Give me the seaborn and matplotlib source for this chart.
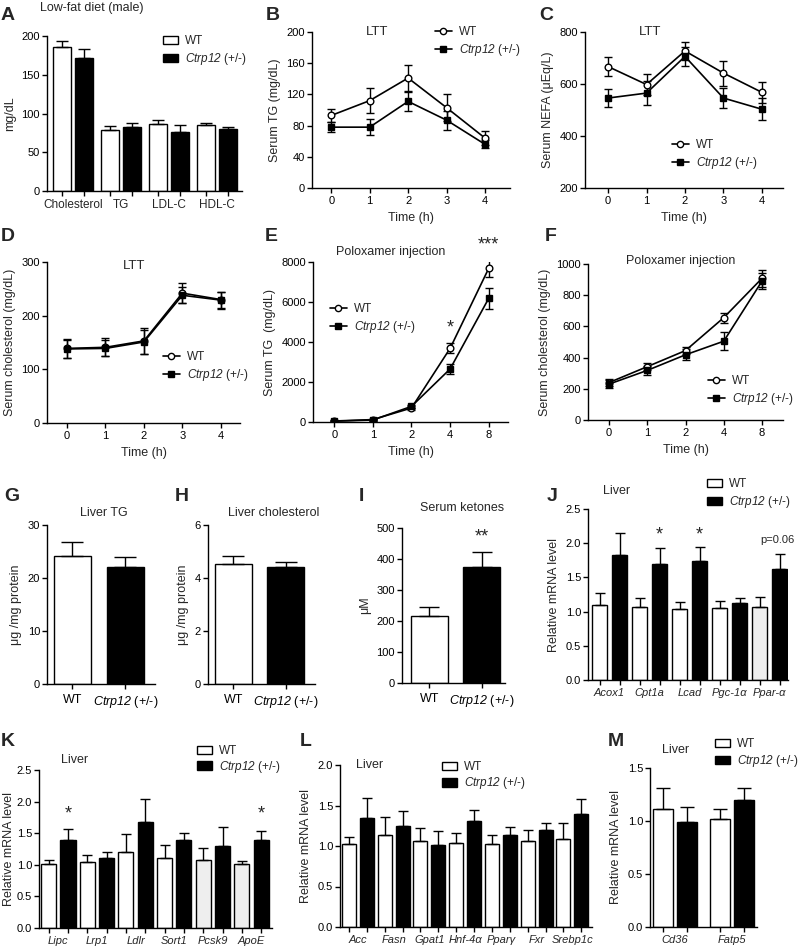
import numpy as np
import pandas as pd
import matplotlib
matplotlib.use('Agg')
import matplotlib.pyplot as plt
import seaborn as sns
from matplotlib.patches import Patch
from matplotlib.lines import Line2D

# ---------------- data ----------------
KO_LABEL = r'$\mathit{Ctrp12}$ (+/-)'

a_cats = ['Cholesterol', 'TG', 'LDL-C', 'HDL-C']
a_wt = [186, 79, 86, 85]
a_wt_err = [7, 4.5, 5, 3]
a_ko = [172, 83, 76, 80]
a_ko_err = [11, 4.5, 9, 2]

time_ltt = [0, 1, 2, 3, 4]
b_wt = [93, 112, 141, 103, 64]
b_wt_err = [8, 16, 17, 17, 9]
b_ko = [78, 78, 111, 87, 56]
b_ko_err = [6, 10, 12, 12, 5]

c_wt = [667, 598, 727, 642, 568]
c_wt_err = [37, 40, 35, 48, 40]
c_ko = [546, 565, 706, 546, 503]
c_ko_err = [35, 45, 38, 40, 42]

d_wt = [139, 141, 153, 242, 230]
d_wt_err = [17, 17, 24, 18, 15]
d_ko = [138, 139, 151, 238, 229]
d_ko_err = [16, 15, 22, 15, 16]

time_pol = ['0', '1', '2', '4', '8']
e_wt = [50, 120, 700, 3680, 7680]
e_wt_err = [30, 40, 80, 250, 450]
e_ko = [40, 100, 780, 2650, 6180]
e_ko_err = [30, 40, 80, 230, 520]

f_wt = [240, 342, 445, 656, 908]
f_wt_err = [22, 22, 25, 32, 55]
f_ko = [230, 318, 418, 505, 890]
f_ko_err = [25, 30, 35, 58, 50]

g_vals = [24.2, 22.0]
g_err = [2.6, 1.9]
h_vals = [4.53, 4.40]
h_err = [0.30, 0.20]
i_vals = [217, 374]
i_err = [28, 47]

j_genes = ['Acox1', 'Cpt1a', 'Lcad', 'Pgc-1α', 'Ppar-α']
j_wt = [1.09, 1.06, 1.04, 1.05, 1.07]
j_wt_err = [0.18, 0.14, 0.10, 0.11, 0.15]
j_ko = [1.83, 1.69, 1.74, 1.12, 1.62]
j_ko_err = [0.32, 0.24, 0.20, 0.08, 0.22]

k_genes = ['Lipc', 'Lrp1', 'Ldlr', 'Sort1', 'Pcsk9', 'ApoE']
k_wt = [1.02, 1.04, 1.21, 1.11, 1.08, 1.01]
k_wt_err = [0.06, 0.12, 0.28, 0.21, 0.18, 0.05]
k_ko = [1.40, 1.11, 1.67, 1.39, 1.30, 1.39]
k_ko_err = [0.16, 0.09, 0.37, 0.11, 0.30, 0.14]

l_genes = ['Acc', 'Fasn', 'Gpat1', 'Hnf-4α', 'Pparγ', 'Fxr', 'Srebp1c']
l_wt = [1.02, 1.13, 1.06, 1.04, 1.03, 1.06, 1.09]
l_wt_err = [0.09, 0.23, 0.16, 0.12, 0.11, 0.14, 0.20]
l_ko = [1.35, 1.25, 1.01, 1.31, 1.13, 1.20, 1.39]
l_ko_err = [0.24, 0.18, 0.17, 0.13, 0.10, 0.09, 0.19]

m_genes = ['Cd36', 'Fatp5']
m_wt = [1.11, 1.02]
m_wt_err = [0.20, 0.09]
m_ko = [0.99, 1.20]
m_ko_err = [0.14, 0.11]

# ---------------- style ----------------
sns.set_style('ticks')
plt.rcParams['font.family'] = ['Liberation Sans', 'DejaVu Sans']
plt.rcParams['mathtext.fontset'] = 'custom'
plt.rcParams['mathtext.it'] = 'Liberation Sans:italic'
plt.rcParams['mathtext.rm'] = 'Liberation Sans:italic'
plt.rcParams['axes.linewidth'] = 1.0
plt.rcParams['xtick.major.width'] = 1.0
plt.rcParams['ytick.major.width'] = 1.0
plt.rcParams['xtick.major.size'] = 3.5
plt.rcParams['ytick.major.size'] = 3.5
plt.rcParams['xtick.labelsize'] = 8
plt.rcParams['ytick.labelsize'] = 8
plt.rcParams['axes.labelsize'] = 9
plt.rcParams['xtick.major.pad'] = 2.5
plt.rcParams['ytick.major.pad'] = 1.5

W, H = 800, 948
fig = plt.figure(figsize=(W / 100, H / 100), dpi=100)
fig.patch.set_facecolor('white')


def add_ax(x0, y0, x1, y1):
    ax = fig.add_axes([x0 / W, 1 - y1 / H, (x1 - x0) / W, (y1 - y0) / H])
    return ax


def finish(ax):
    sns.despine(ax=ax)
    ax.tick_params(colors='black')
    for s in ['left', 'bottom']:
        ax.spines[s].set_color('black')


def ftext(x, y, s, **kw):
    fig.text(x / W, 1 - y / H, s, **kw)


def letter(x, y, s):
    ftext(x, y, s, ha='center', va='center', fontsize=14, fontweight='bold')


def bar_legend(ax, x, y, spacing=0.35, fs=8.5):
    handles = [Patch(facecolor='white', edgecolor='black', linewidth=1.0),
               Patch(facecolor='black', edgecolor='black', linewidth=1.0)]
    ax.legend(handles, ['WT', KO_LABEL], loc='upper left',
              bbox_to_anchor=(x / W, 1 - y / H), bbox_transform=fig.transFigure,
              frameon=False, borderpad=0, borderaxespad=0, handlelength=1.3,
              handleheight=0.75, handletextpad=0.6, labelspacing=spacing, fontsize=fs)


def line_legend(ax, x, y, spacing=0.35, fs=8.5):
    handles = [Line2D([], [], color='black', marker='o', mfc='white', mec='black',
                      markersize=4.5, lw=1.2),
               Line2D([], [], color='black', marker='s', mfc='black', mec='black',
                      markersize=4.5, lw=1.2)]
    ax.legend(handles, ['WT', KO_LABEL], loc='upper left',
              bbox_to_anchor=(x / W, 1 - y / H), bbox_transform=fig.transFigure,
              frameon=False, borderpad=0, borderaxespad=0, handlelength=1.4,
              handletextpad=0.6, labelspacing=spacing, fontsize=fs)


def grouped_bars(ax, cats, wt, wte, ko, koe, width, gap, capsize, italic=False,
                 shade=()):
    df = pd.DataFrame({'cat': cats * 2,
                       'group': ['WT'] * len(cats) + ['KO'] * len(cats),
                       'val': wt + ko})
    sns.barplot(data=df, x='cat', y='val', hue='group', order=cats,
                hue_order=['WT', 'KO'], palette={'WT': 'white', 'KO': 'black'},
                edgecolor='black', linewidth=1.0, width=width, gap=gap,
                errorbar=None, legend=False, saturation=1, ax=ax)
    bars = sorted(ax.patches, key=lambda p: p.get_x())
    errs = [e for pair in zip(wte, koe) for e in pair]
    xs = [p.get_x() + p.get_width() / 2 for p in bars]
    hs = [p.get_height() for p in bars]
    for idx in shade:
        bars[2 * idx].set_facecolor('#eeeeee')
    ax.errorbar(xs, hs, yerr=[np.zeros(len(errs)), errs], fmt='none',
                ecolor='black', elinewidth=1.0, capsize=capsize, capthick=1.0,
                zorder=1)
    ax.set_xticks(xs)
    ax.set_xticklabels([''] * len(xs))
    ax.set_xticks(range(len(cats)), labels=cats, minor=True)
    ax.tick_params(axis='x', which='minor', length=0, pad=6)
    if italic:
        for t in ax.get_xticklabels(minor=True):
            t.set_fontstyle('italic')
    ax.set_xlabel('')
    finish(ax)
    return xs, hs


def two_bars(ax, vals, errs, capsize):
    df = pd.DataFrame({'group': ['WT', 'KO'], 'val': vals})
    sns.barplot(data=df, x='group', y='val', hue='group', order=['WT', 'KO'],
                palette={'WT': 'white', 'KO': 'black'}, edgecolor='black',
                linewidth=1.0, width=0.7, errorbar=None, legend=False,
                saturation=1, ax=ax)
    bars = sorted(ax.patches, key=lambda p: p.get_x())
    xs = [p.get_x() + p.get_width() / 2 for p in bars]
    hs = [p.get_height() for p in bars]
    ax.errorbar(xs, hs, yerr=[np.zeros(2), errs], fmt='none', ecolor='black',
                elinewidth=1.0, capsize=capsize, capthick=1.0, zorder=1)
    ax.set_xticks([0, 1], labels=['WT', KO_LABEL])
    ax.tick_params(axis='x', labelsize=9, pad=4)
    ax.set_xlabel('')
    finish(ax)
    return xs, hs


def lines(ax, x, wt, wte, ko, koe):
    df = pd.DataFrame({'x': list(x) * 2, 'val': wt + ko,
                       'group': ['WT'] * len(x) + ['KO'] * len(x)})
    sns.lineplot(data=df, x='x', y='val', hue='group', style='group',
                 hue_order=['WT', 'KO'], style_order=['WT', 'KO'],
                 palette={'WT': 'black', 'KO': 'black'},
                 markers={'WT': 'o', 'KO': 's'}, dashes=False, markersize=4.8,
                 markeredgecolor='black', markeredgewidth=1.0, linewidth=1.2,
                 errorbar=None, legend=False, ax=ax, zorder=3)
    for ln in ax.lines:
        if ln.get_marker() == 'o':
            ln.set_markerfacecolor('white')
    ax.errorbar(x, wt, yerr=wte, fmt='none', ecolor='black', elinewidth=1.0,
                capsize=3, capthick=1.0, zorder=2)
    ax.errorbar(x, ko, yerr=koe, fmt='none', ecolor='black', elinewidth=1.0,
                capsize=3, capthick=1.0, zorder=2)
    ax.set_xlabel('Time (h)')
    finish(ax)


# ---------------- A ----------------
axA = add_ax(47, 36, 242, 191)
grouped_bars(axA, a_cats, a_wt, a_wt_err, a_ko, a_ko_err, 0.92, 0.18, 4.2)
axA.set_xlim(-0.54, 3.52)
axA.set_ylim(0, 200)
axA.set_yticks([0, 50, 100, 150, 200])
axA.set_ylabel('mg/dL')
axA.tick_params(axis='x', which='minor', labelsize=8.5)
bar_legend(axA, 163, 35)
letter(8, 16, 'A')
ftext(40, 8, 'Low-fat diet (male)', ha='left', va='center', fontsize=9)

# ---------------- B ----------------
axB = add_ax(312, 32, 510, 188)
lines(axB, time_ltt, b_wt, b_wt_err, b_ko, b_ko_err)
axB.set_xlim(-0.5, 4.65)
axB.set_ylim(0, 200)
axB.set_yticks([0, 40, 80, 120, 160, 200])
axB.set_xticks(time_ltt)
axB.set_ylabel('Serum TG (mg/dL)')
line_legend(axB, 435, 26)
letter(273, 16, 'B')
ftext(377, 32, 'LTT', ha='center', va='center', fontsize=9.5)

# ---------------- C ----------------
axC = add_ax(585, 32, 783, 188)
lines(axC, time_ltt, c_wt, c_wt_err, c_ko, c_ko_err)
axC.set_xlim(-0.6, 4.55)
axC.set_ylim(200, 800)
axC.set_yticks([200, 400, 600, 800])
axC.set_xticks(time_ltt)
axC.set_ylabel('Serum NEFA (μEq/L)')
line_legend(axC, 672, 139)
letter(546, 16, 'C')
ftext(650, 32, 'LTT', ha='center', va='center', fontsize=9.5)

# ---------------- D ----------------
axD = add_ax(47, 262, 240, 423)
lines(axD, time_ltt, d_wt, d_wt_err, d_ko, d_ko_err)
axD.set_xlim(-0.52, 4.5)
axD.set_ylim(0, 300)
axD.set_yticks([0, 100, 200, 300])
axD.set_xticks(time_ltt)
axD.set_ylabel('Serum cholesterol (mg/dL)')
line_legend(axD, 163, 351)
letter(8, 236, 'D')
ftext(134, 266, 'LTT', ha='center', va='center', fontsize=9.5)

# ---------------- E ----------------
axE = add_ax(313, 262, 508, 422)
xpos = list(range(len(time_pol)))
lines(axE, xpos, e_wt, e_wt_err, e_ko, e_ko_err)
axE.set_xlim(-0.55, 4.5)
axE.set_ylim(0, 8000)
axE.set_yticks([0, 2000, 4000, 6000, 8000])
axE.set_xticks(xpos, labels=time_pol)
axE.set_ylabel('Serum TG  (mg/dL)')
axE.text(3, 4700, '*', ha='center', va='center', fontsize=13)
axE.text(4, 8850, '***', ha='center', va='center', fontsize=13, clip_on=False)
line_legend(axE, 330, 303)
letter(271, 236, 'E')
ftext(391, 252, 'Poloxamer injection', ha='center', va='center', fontsize=9)

# ---------------- F ----------------
axF = add_ax(588, 264, 783, 420)
lines(axF, xpos, f_wt, f_wt_err, f_ko, f_ko_err)
axF.set_xlim(-0.55, 4.55)
axF.set_ylim(0, 1000)
axF.set_yticks([0, 200, 400, 600, 800, 1000])
axF.set_xticks(xpos, labels=time_pol)
axF.set_ylabel('Serum cholesterol (mg/dL)')
line_legend(axF, 708, 375)
letter(551, 236, 'F')
ftext(681, 261, 'Poloxamer injection', ha='center', va='center', fontsize=9)

# ---------------- G ----------------
axG = add_ax(47, 525, 155, 684)
two_bars(axG, g_vals, g_err, 8)
axG.set_xlim(-0.48, 1.56)
axG.set_ylim(0, 30)
axG.set_yticks([0, 10, 20, 30])
axG.set_ylabel('μg /mg protein')
letter(12, 496, 'G')
ftext(104, 513, 'Liver TG', ha='center', va='center', fontsize=9)

# ---------------- H ----------------
axH = add_ax(208, 525, 315, 684)
two_bars(axH, h_vals, h_err, 8)
axH.set_xlim(-0.48, 1.56)
axH.set_ylim(0, 6)
axH.set_yticks([0, 2, 4, 6])
axH.set_ylabel('μg /mg protein')
letter(182, 496, 'H')
ftext(274, 513, 'Liver cholesterol', ha='center', va='center', fontsize=9)

# ---------------- I ----------------
axI = add_ax(402, 528, 505, 683)
two_bars(axI, i_vals, i_err, 7)
axI.set_xlim(-0.52, 1.44)
axI.set_ylim(0, 500)
axI.set_yticks([0, 100, 200, 300, 400, 500])
axI.set_ylabel('μM')
axI.text(1, 472, '**', ha='center', va='center', fontsize=13)
letter(361, 496, 'I')
ftext(462, 508, 'Serum ketones', ha='center', va='center', fontsize=9)

# ---------------- J ----------------
axJ = add_ax(588, 509, 788, 680)
xsJ, _ = grouped_bars(axJ, j_genes, j_wt, j_wt_err, j_ko, j_ko_err, 1.0, 0.25,
                      3.5, italic=True, shade=(4,))
axJ.set_xlim(-0.54, 4.46)
axJ.set_ylim(0, 2.5)
axJ.set_yticks([0, 0.5, 1.0, 1.5, 2.0, 2.5])
axJ.set_yticklabels(['0.0', '0.5', '1.0', '1.5', '2.0', '2.5'])
axJ.set_ylabel('Relative mRNA level')
axJ.text(xsJ[3], 2.12, '*', ha='center', va='center', fontsize=13)
axJ.text(xsJ[5], 2.12, '*', ha='center', va='center', fontsize=13)
axJ.text(xsJ[9] - 0.05, 2.05, 'p=0.06', ha='center', va='center', fontsize=8)
bar_legend(axJ, 707, 478)
letter(552, 496, 'J')
ftext(617, 491, 'Liver', ha='center', va='center', fontsize=9)

# ---------------- K ----------------
axK = add_ax(39, 770, 272, 928)
xsK, _ = grouped_bars(axK, k_genes, k_wt, k_wt_err, k_ko, k_ko_err, 1.0, 0.22,
                      3.5, italic=True, shade=(4, 5))
axK.set_xlim(-0.5, 5.53)
axK.set_ylim(0, 2.5)
axK.set_yticks([0, 0.5, 1.0, 1.5, 2.0, 2.5])
axK.set_yticklabels(['0.0', '0.5', '1.0', '1.5', '2.0', '2.5'])
axK.set_ylabel('Relative mRNA level', labelpad=1)
axK.text(xsK[1], 1.80, '*', ha='center', va='center', fontsize=13)
axK.text(xsK[11], 1.80, '*', ha='center', va='center', fontsize=13)
bar_legend(axK, 197, 745, spacing=0.15)
letter(8, 741, 'K')
ftext(75, 760, 'Liver', ha='center', va='center', fontsize=9)

# ---------------- L ----------------
axL = add_ax(340, 765, 592, 927)
grouped_bars(axL, l_genes, l_wt, l_wt_err, l_ko, l_ko_err, 1.0, 0.22, 3.5,
             italic=True)
axL.set_xlim(-0.5, 6.55)
axL.set_ylim(0, 2.0)
axL.set_yticks([0, 0.5, 1.0, 1.5, 2.0])
axL.set_yticklabels(['0.0', '0.5', '1.0', '1.5', '2.0'])
axL.set_ylabel('Relative mRNA level')
bar_legend(axL, 442, 761, spacing=0.2)
letter(306, 742, 'L')
ftext(370, 765, 'Liver', ha='center', va='center', fontsize=9)

# ---------------- M ----------------
axM = add_ax(650, 768, 757, 927)
grouped_bars(axM, m_genes, m_wt, m_wt_err, m_ko, m_ko_err, 0.84, 0.17, 5,
             italic=True)
axM.set_xlim(-0.44, 1.44)
axM.set_ylim(0, 1.5)
axM.set_yticks([0, 0.5, 1.0, 1.5])
axM.set_yticklabels(['0.0', '0.5', '1.0', '1.5'])
axM.set_ylabel('Relative mRNA level')
bar_legend(axM, 715, 738, spacing=0.25)
letter(616, 742, 'M')
ftext(676, 750, 'Liver', ha='center', va='center', fontsize=9)

fig.savefig('out.png', dpi=100, facecolor='white')
